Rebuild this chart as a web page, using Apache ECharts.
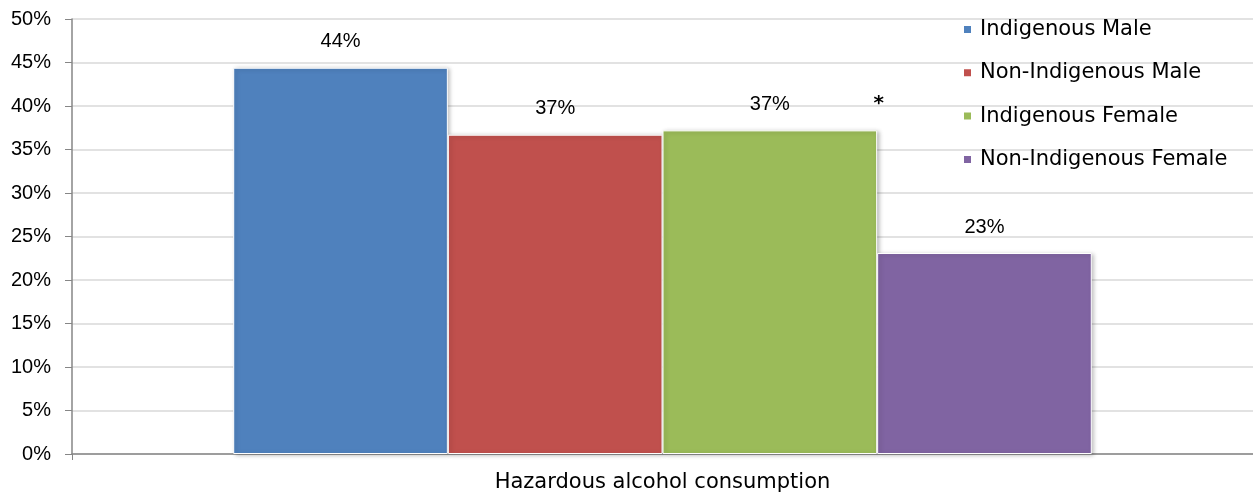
<!DOCTYPE html>
<html>
<head>
<meta charset="utf-8">
<script src="https://cdn.jsdelivr.net/npm/echarts@6/dist/echarts.min.js"></script>
<style>
  html, body { margin: 0; padding: 0; background: #fff; }
  #chart { width: 1253px; height: 495px; }
</style>
</head>
<body>
<div id="chart"></div>
<script>
// Hazardous alcohol consumption by group (percent)
const categories = ['Hazardous alcohol consumption'];
const seriesNames = ['Indigenous Male', 'Non-Indigenous Male', 'Indigenous Female', 'Non-Indigenous Female'];
const seriesValues = [[44.4], [36.7], [37.2], [23.1]];
const seriesColors = ['#4f81bd', '#c0504d', '#9bbb59', '#8064a2'];
const yTicks = { min: 0, max: 50, interval: 5 };
const noteMark = '*';          // significance marker next to Indigenous Female
const noteSeries = 2;

const numFont = "'Liberation Sans', sans-serif";
const textFont = "'DejaVu Sans', sans-serif";

const chart = echarts.init(document.getElementById('chart'), null, { renderer: 'canvas' });

const series = seriesNames.map((name, i) => ({
  name,
  type: 'bar',
  data: seriesValues[i],
  barGap: '0%',
  barCategoryGap: '27.3%',
  itemStyle: {
    color: seriesColors[i],
    borderColor: '#ffffff',
    borderWidth: 1,
    shadowColor: 'rgba(0,0,0,0.25)',
    shadowBlur: 4,
    shadowOffsetX: 2,
    shadowOffsetY: 1
  },
  label: {
    show: true,
    position: 'top',
    distance: 16,
    color: '#000',
    fontFamily: numFont,
    fontSize: 20,
    formatter: p => Math.round(p.value) + '%'
  },
  markPoint: i === noteSeries ? {
    symbol: 'circle',
    symbolSize: 0,
    data: [{ coord: [0, seriesValues[i][0]] }],
    label: {
      show: true,
      formatter: noteMark,
      color: '#000',
      fontFamily: textFont,
      fontSize: 20,
      fontWeight: 'bold',
      offset: [109, -27]
    }
  } : undefined
}));

chart.setOption({
  backgroundColor: '#ffffff',
  animation: false,
  grid: { left: 72, right: 0, top: 19, bottom: 41, containLabel: false },
  legend: {
    orient: 'vertical',
    left: 957,
    top: 14,
    itemWidth: 9,
    itemHeight: 9,
    itemGap: 22.3,
    icon: 'rect',
    textStyle: { fontFamily: textFont, fontSize: 21, color: '#000', padding: [0, 0, 0, 3] },
    data: seriesNames
  },
  xAxis: {
    type: 'category',
    data: categories,
    axisLine: { show: true, lineStyle: { color: '#868686', width: 1.5 } },
    axisTick: { show: true, length: 6, lineStyle: { color: '#868686' } },
    axisLabel: { fontFamily: textFont, fontSize: 21, color: '#000', margin: 18 }
  },
  yAxis: {
    type: 'value',
    min: yTicks.min,
    max: yTicks.max,
    interval: yTicks.interval,
    axisLine: { show: true, lineStyle: { color: '#868686', width: 1.5 } },
    axisTick: { show: true, length: 7, lineStyle: { color: '#868686' } },
    splitLine: { show: true, lineStyle: { color: '#d9d9d9', width: 1.5 } },
    axisLabel: {
      fontFamily: numFont,
      fontSize: 20,
      color: '#000',
      margin: 21,
      formatter: v => v + '%'
    }
  },
  series
});
</script>
</body>
</html>
